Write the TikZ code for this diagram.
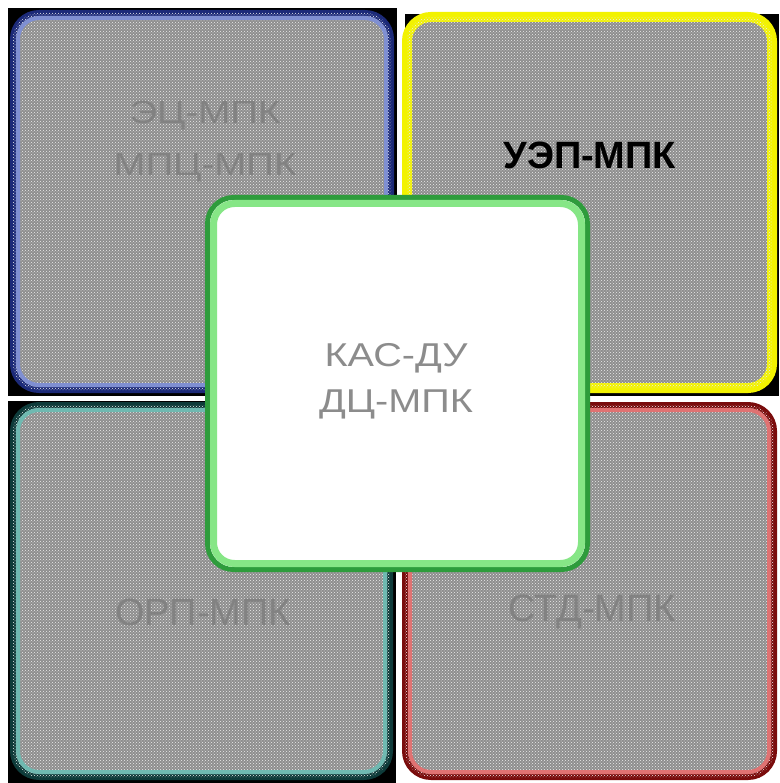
\documentclass[tikz,border=0pt]{standalone}
\usepackage{fontspec}
\setmainfont{Liberation Sans}
\usetikzlibrary{patterns}
\definecolor{boxgray}{HTML}{8E8E8E}
\definecolor{ghost}{HTML}{828282}
\definecolor{cgray}{HTML}{8C8C8C}
\definecolor{bluedark}{HTML}{1C2A78}
\definecolor{bluelight}{HTML}{7F8FD2}
\definecolor{tealdark}{HTML}{0E3B3A}
\definecolor{teallight}{HTML}{6FB9B1}
\definecolor{reddark}{HTML}{7A0C0C}
\definecolor{redlight}{HTML}{E07272}
\definecolor{yel}{HTML}{F2F200}
\definecolor{greendark}{HTML}{2E9C3C}
\definecolor{greenlight}{HTML}{86E686}
\tikzset{
  outerbox/.style={rectangle, inner sep=0pt, rounded corners=26pt, line width=6pt,
    fill=boxgray, postaction={pattern=crosshatch dots, pattern color=white!85!gray}},
  innerline/.style={rectangle, inner sep=0pt, rounded corners=21pt, line width=4pt},
  ghosttext/.style={text=ghost, align=center},
}
\begin{document}
\begin{tikzpicture}[x=1pt,y=-1pt]
\useasboundingbox[fill=white] (0,0) rectangle (779,783);
% black backgrounds
\fill[black] (8,8) rectangle (397,396);
\fill[black] (405,14) rectangle (779,396);
\fill[black] (8,401) rectangle (396,783);
% top-left
\node[outerbox, draw=bluedark, minimum width=378pt, minimum height=377pt] (tl) at (202,201.5) {};
\node[innerline, draw=bluelight, minimum width=368pt, minimum height=367pt] (tli) at (202,201.5) {};
% top-right (yellow)
\node[outerbox, draw=yel, line width=10pt, rounded corners=24pt, minimum width=365pt, minimum height=371pt] (tr) at (589.5,202.5) {};
% bottom-left
\node[outerbox, draw=tealdark, minimum width=377pt, minimum height=372pt] (bl) at (201.5,591) {};
\node[innerline, draw=teallight, minimum width=367pt, minimum height=362pt] (bli) at (201.5,591) {};
% bottom-right
\node[outerbox, draw=reddark, minimum width=369pt, minimum height=372pt] (br) at (589.5,591) {};
\node[innerline, draw=redlight, minimum width=359pt, minimum height=362pt] (bri) at (589.5,591) {};
% texts in the four boxes
\node[ghosttext, font=\fontsize{32}{52}\selectfont] (tlt) at (205,142) {\scalebox{1.2}[1]{ЭЦ-МПК}\\\scalebox{1.2}[1]{МПЦ-МПК}};
\node[font=\fontsize{38}{44}\selectfont\bfseries, text=black] (trt) at (590,155) {УЭП-МПК};
\node[ghosttext, font=\fontsize{38}{44}\selectfont] (blt) at (203,612) {ОРП-МПК};
\node[ghosttext, font=\fontsize{38}{44}\selectfont] (brt) at (592,612) {СТД-МПК};
% centre
\node[rectangle, inner sep=0pt, rounded corners=26pt, fill=white, draw=greendark, line width=5pt,
      minimum width=380pt, minimum height=372pt] (c) at (397.5,383.5) {};
\node[rectangle, inner sep=0pt, rounded corners=21pt, draw=greenlight, line width=7pt,
      minimum width=368pt, minimum height=360pt] (ci) at (397.5,383.5) {};
\node[text=cgray, align=center, font=\fontsize{33}{46}\selectfont] (ct) at (396,381) {\scalebox{1.2}[1]{КАС-ДУ}\\\scalebox{1.2}[1]{ДЦ-МПК}};
\end{tikzpicture}
\end{document}
